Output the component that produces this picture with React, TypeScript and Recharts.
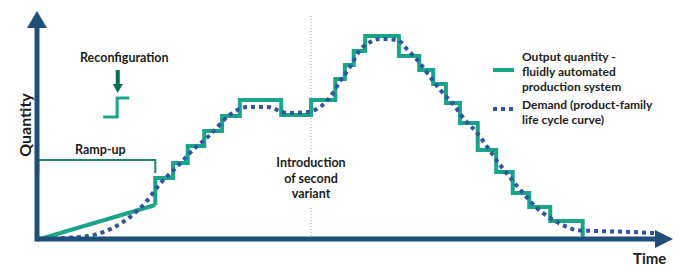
import { LineChart, Line, XAxis, YAxis, ReferenceLine, ReferenceDot } from "recharts";

// time 0..100 along the arrow, quantity 0..100 up the arrow
const rampUp = [
  { t: 0.5, q: 0 },
  { t: 18.6, q: 14.9 }
];

const outputSteps = [
  { t: 18.6, q: 14.9 },
  { t: 18.6, q: 26.8 },
  { t: 21.4, q: 33.3 },
  { t: 23.7, q: 40.8 },
  { t: 26.3, q: 47.4 },
  { t: 29.1, q: 53.9 },
  { t: 31.9, q: 61.0 },
  { t: 38.4, q: 54.4 },
  { t: 43.1, q: 61.0 },
  { t: 46.9, q: 70.2 },
  { t: 48.4, q: 76.3 },
  { t: 49.8, q: 82.5 },
  { t: 51.6, q: 89.0 },
  { t: 56.9, q: 80.3 },
  { t: 60.1, q: 74.1 },
  { t: 62.3, q: 68.0 },
  { t: 64.3, q: 59.6 },
  { t: 66.5, q: 50.9 },
  { t: 69.3, q: 39.0 },
  { t: 72.2, q: 29.4 },
  { t: 74.8, q: 20.2 },
  { t: 77.4, q: 14.0 },
  { t: 80.7, q: 7.9 },
  { t: 85.8, q: 1.0 }
];

const demand = [
  { t: 0, q: 0 },
  { t: 6.8, q: 0.9 },
  { t: 11.9, q: 4.8 },
  { t: 14.6, q: 9.6 },
  { t: 17.0, q: 15.8 },
  { t: 19.3, q: 24.1 },
  { t: 22.0, q: 31.6 },
  { t: 24.5, q: 39.0 },
  { t: 27.2, q: 45.6 },
  { t: 30.3, q: 54.4 },
  { t: 33.0, q: 57.9 },
  { t: 36.2, q: 57.9 },
  { t: 39.3, q: 55.3 },
  { t: 42.5, q: 55.7 },
  { t: 44.5, q: 57.9 },
  { t: 46.1, q: 62.3 },
  { t: 47.6, q: 68.9 },
  { t: 49.2, q: 75.4 },
  { t: 50.8, q: 82.9 },
  { t: 52.4, q: 86.4 },
  { t: 53.9, q: 87.7 },
  { t: 56.6, q: 87.3 },
  { t: 58.3, q: 82.9 },
  { t: 60.2, q: 77.2 },
  { t: 61.8, q: 71.1 },
  { t: 63.4, q: 65.4 },
  { t: 65.3, q: 59.6 },
  { t: 67.3, q: 52.2 },
  { t: 69.2, q: 46.5 },
  { t: 70.8, q: 40.4 },
  { t: 72.8, q: 32.5 },
  { t: 74.7, q: 25.9 },
  { t: 76.4, q: 20.2 },
  { t: 78.6, q: 13.6 },
  { t: 80.7, q: 9.2 },
  { t: 82.7, q: 6.1 },
  { t: 84.9, q: 3.9 },
  { t: 88.1, q: 3.5 },
  { t: 93.2, q: 3.1 },
  { t: 97.2, q: 2.6 }
];

const rampBracket = [
  { t: 0.2, q: 28.9 },
  { t: 0.2, q: 34.6 },
  { t: 18.6, q: 34.6 },
  { t: 18.6, q: 28.9 }
];

const reconfigIcon = [
  { t: 10.4, q: 53.5 },
  { t: 12.6, q: 53.5 },
  { t: 12.6, q: 61.8 },
  { t: 14.5, q: 61.8 }
];

const variantTime = 43.1;

const axisColor = "#1f4e79";
const outputColor = "#1aa58b";
const demandColor = "#2f55a0";
const bracketColor = "#1d8a70";
const font = "Lato, 'DejaVu Sans', sans-serif";

const textStyle = {
  position: "absolute" as const,
  fontFamily: font,
  fontWeight: 700,
  color: "#1c1c1c",
  whiteSpace: "nowrap" as const,
  lineHeight: 1
};

function ArrowUp(props: any) {
  const { cx, cy } = props;
  return (
    <polygon points={`${cx},${cy} ${cx - 10},${cy + 17} ${cx + 10},${cy + 17}`} fill={axisColor} />
  );
}

function ArrowRight(props: any) {
  const { cx, cy } = props;
  return (
    <polygon points={`${cx},${cy} ${cx - 18},${cy - 9} ${cx - 18},${cy + 9}`} fill={axisColor} />
  );
}

function DownArrow(props: any) {
  const { cx, cy } = props;
  return (
    <g fill="#0e6b52">
      <rect x={cx - 2} y={cy - 23} width={4} height={15} />
      <polygon points={`${cx},${cy} ${cx - 5},${cy - 9} ${cx + 5},${cy - 9}`} />
    </g>
  );
}

export default function App() {
  return (
    <div style={{ position: "absolute", left: 0, top: 0, width: 678, height: 268, background: "#fff" }}>
      <LineChart width={678} height={268} margin={{ top: 11, right: 5, bottom: 29, left: 37 }}>
        <XAxis type="number" dataKey="t" domain={[0, 100]} hide allowDataOverflow />
        <YAxis type="number" dataKey="q" domain={[0, 100]} hide allowDataOverflow />
        <ReferenceLine
          segment={[{ x: variantTime, y: 0 }, { x: variantTime, y: 98 }]}
          stroke="#a0a8b0"
          strokeDasharray="1 2"
          strokeWidth={1}
          ifOverflow="visible"
        />
        <Line data={rampBracket} dataKey="q" type="linear" stroke={bracketColor} strokeWidth={2} dot={false} isAnimationActive={false} />
        <Line data={reconfigIcon} dataKey="q" type="linear" stroke={outputColor} strokeWidth={3} dot={false} isAnimationActive={false} />
        <Line data={rampUp} dataKey="q" type="linear" stroke={outputColor} strokeWidth={4} dot={false} isAnimationActive={false} />
        <Line data={outputSteps} dataKey="q" type="stepAfter" stroke={outputColor} strokeWidth={4} dot={false} isAnimationActive={false} />
        <Line
          data={demand}
          dataKey="q"
          type="monotone"
          stroke={demandColor}
          strokeWidth={4}
          strokeDasharray="4 4"
          dot={false}
          isAnimationActive={false}
        />
        <ReferenceLine segment={[{ x: 0, y: 0 }, { x: 98, y: 0 }]} stroke={axisColor} strokeWidth={5} ifOverflow="visible" />
        <ReferenceLine
          segment={[{ x: 0, y: 0 }, { x: 0, y: 96 }]}
          stroke={axisColor}
          strokeWidth={5}
          strokeLinecap="square"
          ifOverflow="visible"
        />
        <ReferenceDot x={100} y={0} shape={ArrowRight} ifOverflow="visible" />
        <ReferenceDot x={0} y={100} shape={ArrowUp} ifOverflow="visible" />
        <ReferenceDot x={12.7} y={64} shape={DownArrow} ifOverflow="visible" />
      </LineChart>

      <div style={{ ...textStyle, left: 25, top: 125, fontSize: 16, transform: "translate(-50%, -50%) rotate(-90deg)" }}>
        Quantity
      </div>
      <div style={{ ...textStyle, left: 633, top: 251, fontSize: 15 }}>Time</div>
      <div style={{ ...textStyle, left: 80, top: 52, fontSize: 12.5 }}>Reconfiguration</div>
      <div style={{ ...textStyle, left: 75, top: 144, fontSize: 12.5 }}>Ramp-up</div>
      <div
        style={{
          ...textStyle,
          left: 272,
          top: 152,
          width: 78,
          textAlign: "center",
          fontSize: 12.5,
          lineHeight: "15.5px",
          background: "#fff",
          paddingTop: 3,
          paddingBottom: 4
        }}
      >
        Introduction
        <br />
        of second
        <br />
        variant
      </div>

      <svg style={{ position: "absolute", left: 490, top: 60 }} width={28} height={60}>
        <line x1={3} y1={10} x2={24} y2={10} stroke={outputColor} strokeWidth={4} />
        <line x1={3} y1={49} x2={24} y2={49} stroke={demandColor} strokeWidth={4} strokeDasharray="4 4" />
      </svg>
      <div style={{ ...textStyle, left: 522, top: 49, fontSize: 12, lineHeight: "15px" }}>
        Output quantity -
        <br />
        fluidly automated
        <br />
        production system
      </div>
      <div style={{ ...textStyle, left: 522, top: 97, fontSize: 12, lineHeight: "15px" }}>
        Demand (product-family
        <br />
        life cycle curve)
      </div>
    </div>
  );
}
